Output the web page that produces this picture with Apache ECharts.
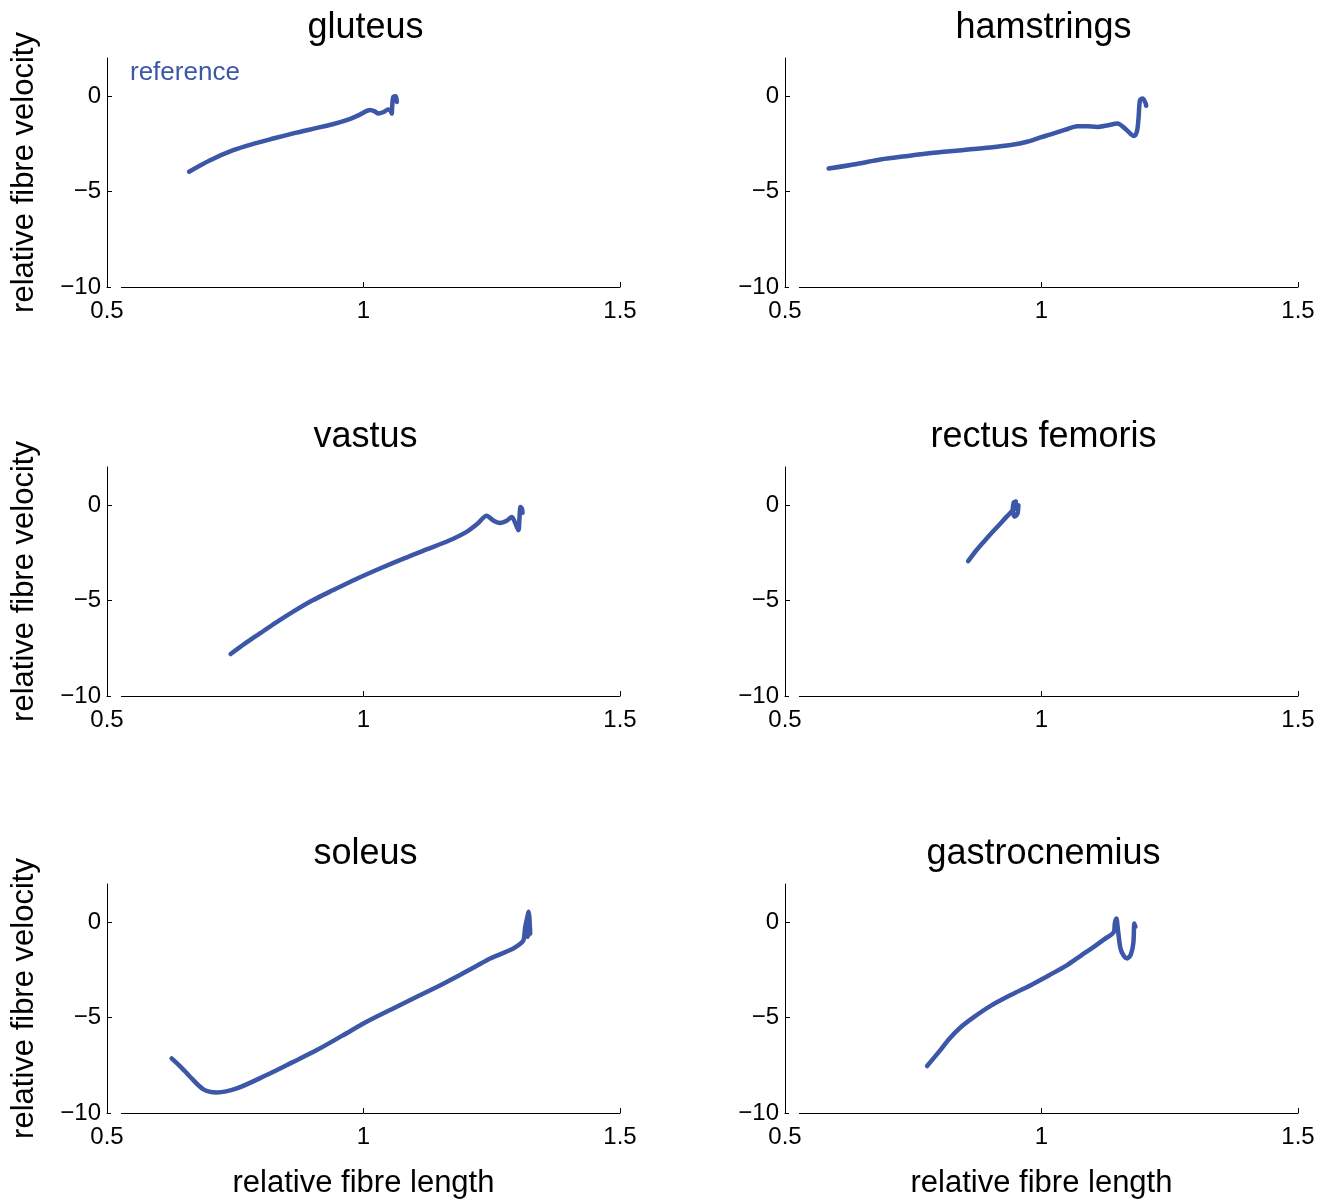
<!DOCTYPE html>
<html>
<head>
<meta charset="utf-8">
<title>fibre length vs velocity</title>
<script src="https://cdn.jsdelivr.net/npm/echarts@6/dist/echarts.min.js"></script>
<style>
html,body{margin:0;padding:0;background:#fff;}
#main{width:1322px;height:1200px;}
</style>
</head>
<body>
<div id="main"></div>
<script>
// relative fibre length / velocity per muscle
var gluteusLength = [0.660, 0.700, 0.746, 0.785, 0.824, 0.865, 0.905, 0.940, 0.970, 0.992, 1.013, 1.022, 1.029, 1.040, 1.048, 1.053, 1.055, 1.056, 1.058, 1.063, 1.065];
var gluteusVelocity = [-3.96, -3.37, -2.83, -2.50, -2.22, -1.94, -1.69, -1.47, -1.23, -0.98, -0.73, -0.80, -0.91, -0.82, -0.70, -0.78, -0.91, -0.50, -0.05, 0.00, -0.30];

var hamstringsLength = [0.585, 0.640, 0.686, 0.740, 0.790, 0.845, 0.900, 0.940, 0.972, 0.998, 1.018, 1.045, 1.070, 1.090, 1.109, 1.130, 1.148, 1.165, 1.180, 1.186, 1.189, 1.192, 1.197, 1.203, 1.204];
var hamstringsVelocity = [-3.79, -3.55, -3.32, -3.13, -2.97, -2.83, -2.69, -2.56, -2.39, -2.16, -2.00, -1.77, -1.57, -1.58, -1.61, -1.52, -1.43, -1.75, -2.09, -1.85, -1.20, -0.21, -0.12, -0.38, -0.50];

var vastusLength = [0.741, 0.770, 0.798, 0.830, 0.863, 0.900, 0.941, 0.985, 1.032, 1.078, 1.123, 1.165, 1.201, 1.222, 1.240, 1.253, 1.266, 1.280, 1.289, 1.296, 1.302, 1.304, 1.306, 1.309, 1.310];
var vastusVelocity = [-7.80, -7.23, -6.72, -6.14, -5.58, -5.00, -4.45, -3.88, -3.32, -2.80, -2.32, -1.88, -1.40, -0.98, -0.55, -0.80, -0.93, -0.80, -0.62, -0.95, -1.31, -0.70, -0.10, -0.20, -0.40];

var rectusLength = [0.857, 0.872, 0.888, 0.904, 0.920, 0.932, 0.941, 0.947, 0.950, 0.946, 0.944, 0.948, 0.953, 0.955, 0.951];
var rectusVelocity = [-2.93, -2.40, -1.90, -1.42, -0.96, -0.60, -0.35, -0.10, 0.20, 0.15, -0.30, -0.60, -0.45, 0.00, -0.20];

var soleusLength = [0.626, 0.645, 0.662, 0.688, 0.714, 0.753, 0.811, 0.860, 0.909, 0.958, 1.006, 1.055, 1.104, 1.150, 1.188, 1.220, 1.247, 1.272, 1.292, 1.305, 1.312, 1.315, 1.318, 1.322, 1.324, 1.320, 1.317, 1.322, 1.325];
var soleusVelocity = [-7.14, -7.62, -8.10, -8.76, -8.92, -8.71, -8.01, -7.36, -6.70, -5.96, -5.22, -4.56, -3.91, -3.30, -2.77, -2.30, -1.90, -1.62, -1.38, -1.15, -0.94, -0.30, 0.10, 0.54, -0.20, -0.77, -0.24, 0.40, -0.60];

var gastrocLength = [0.777, 0.800, 0.820, 0.842, 0.868, 0.900, 0.940, 0.979, 1.015, 1.050, 1.077, 1.102, 1.122, 1.141, 1.143, 1.146, 1.149, 1.154, 1.160, 1.167, 1.174, 1.179, 1.181, 1.183];
var gastrocVelocity = [-7.54, -6.80, -6.12, -5.52, -4.98, -4.40, -3.82, -3.30, -2.78, -2.25, -1.75, -1.29, -0.90, -0.51, -0.05, 0.19, -0.40, -1.38, -1.75, -1.90, -1.70, -1.10, -0.07, -0.25];

var muscleNames = ['gluteus', 'hamstrings', 'vastus', 'rectus femoris', 'soleus', 'gastrocnemius'];
var lengthTicks = [0.5, 1, 1.5];
var velocityTicks = [-10, -5, 0];

var panels = [
	[gluteusLength, gluteusVelocity],
	[hamstringsLength, hamstringsVelocity],
	[vastusLength, vastusVelocity],
	[rectusLength, rectusVelocity],
	[soleusLength, soleusVelocity],
	[gastrocLength, gastrocVelocity]
];

var lineColor = '#3c56a8';
var font = '"Liberation Sans", Arial, Helvetica, sans-serif';
var colLeft = [107, 785];
var rowTop = [58, 467, 884];
var plotW = 513, plotH = 229;

function zip(xs, ys){
	var out = [];
	for(var i=0;i<xs.length;i++){
		out.push([xs[i], ys[i]]);
	}
	return out;
}

var grids = [], xAxes = [], yAxes = [], series = [], titles = [], gaps = [];
for(var i=0;i<panels.length;i++){
	var col = i % 2, row = Math.floor(i / 2);
	grids.push({left: colLeft[col], top: rowTop[row], width: plotW, height: plotH, containLabel: false});
	titles.push({
		text: muscleNames[i],
		left: colLeft[col] + plotW / 2 - 3,
		top: rowTop[row] - 53,
		textAlign: 'center',
		textStyle: {fontFamily: font, fontSize: 36, fontWeight: 'normal', color: '#000'}
	});
	// matlab style: the x axis line starts a little right of the y axis
	gaps.push({
		type: 'rect',
		shape: {x: colLeft[col] + 4, y: rowTop[row] + plotH - 3, width: 10, height: 6},
		style: {fill: '#fff'},
		z: 100
	});
	xAxes.push({
		gridIndex: i,
		type: 'value',
		min: 0.5, max: 1.5, interval: 0.5,
		name: row == 2 ? 'relative fibre length' : '',
		nameLocation: 'middle',
		nameGap: 55,
		nameTextStyle: {fontFamily: font, fontSize: 31, color: '#000'},
		axisLine: {show: true, onZero: false, lineStyle: {color: '#000', width: 1}},
		axisTick: {show: true, inside: true, length: 5, customValues: lengthTicks, lineStyle: {color: '#000'}},
		axisLabel: {fontFamily: font, fontSize: 24, color: '#000', margin: 12, customValues: lengthTicks},
		splitLine: {show: false}
	});
	yAxes.push({
		gridIndex: i,
		type: 'value',
		min: -10, max: 2, interval: 5,
		name: col == 0 ? 'relative fibre velocity' : '',
		nameLocation: 'middle',
		nameRotate: 90,
		nameGap: 67,
		nameTextStyle: {fontFamily: font, fontSize: 31, color: '#000'},
		axisLine: {show: true, onZero: false, lineStyle: {color: '#000', width: 1}},
		axisTick: {show: true, inside: true, length: 5, customValues: velocityTicks, lineStyle: {color: '#000'}},
		axisLabel: {
			fontFamily: font, fontSize: 24, color: '#000', margin: 6,
			customValues: velocityTicks,
			formatter: function(v){ return String(v).replace('-', '\u2212'); }
		},
		splitLine: {show: false}
	});
	series.push({
		name: i == 0 ? 'reference' : muscleNames[i],
		type: 'line',
		xAxisIndex: i,
		yAxisIndex: i,
		data: zip(panels[i][0], panels[i][1]),
		showSymbol: false,
		smooth: 0.3,
		lineStyle: {color: lineColor, width: 4.5, cap: 'round', join: 'round'},
		itemStyle: {color: lineColor},
		animation: false
	});
}

var option = {
	backgroundColor: '#fff',
	animation: false,
	title: titles,
	legend: {
		data: ['reference'],
		left: 120, top: 55,
		icon: 'none',
		itemWidth: 0,
		itemGap: 0,
		textStyle: {fontFamily: font, fontSize: 26, color: lineColor}
	},
	grid: grids,
	xAxis: xAxes,
	yAxis: yAxes,
	series: series,
	graphic: gaps
};

var myChart = echarts.init(document.getElementById('main'));
myChart.setOption(option);
</script>
</body>
</html>
